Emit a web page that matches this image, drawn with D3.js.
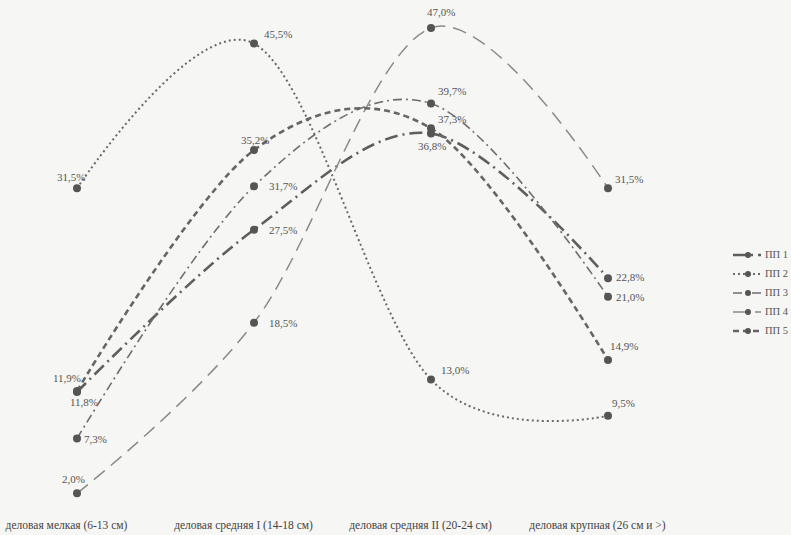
<!DOCTYPE html>
<html>
<head>
<meta charset="utf-8">
<script src="https://cdn.jsdelivr.net/npm/d3@7"></script>
<style>
  body { margin: 0; background: #f6f6f4; }
  svg { display: block; }
</style>
</head>
<body>
<div id="chart"></div>
<script>
// categories and series values (percent)
var categories = [
  "деловая мелкая (6-13 см)",
  "деловая средняя I (14-18 см)",
  "деловая средняя II (20-24 см)",
  "деловая крупная (26 см и >)"
];
var seriesNames = ["ПП 1", "ПП 2", "ПП 3", "ПП 4", "ПП 5"];
var pp1 = [11.8, 27.5, 36.8, 22.8];
var pp2 = [31.5, 45.5, 13.0, 9.5];
var pp3 = [7.3, 31.7, 39.7, 21.0];
var pp4 = [2.0, 18.5, 47.0, 31.5];
var pp5 = [11.9, 35.2, 37.3, 14.9];
var seriesValues = [pp1, pp2, pp3, pp4, pp5];

// label placement per point: [dx, dy]
var labelOffsets = [
  [[-7, 14], [15, 4], [-13, 17], [8, 3]],
  [[-20, -7], [10, -6], [10, -6], [4, -9]],
  [[7, 4], [15, 4], [7, -9], [8, 4]],
  [[-15, -10], [15, 4], [-4, -12], [7, -5]],
  [[-24, -9], [-13, -6], [7, -5], [2, -10]]
];

// line styles per series
var styles = [
  { dash: "13,5,2,5", width: 2.6, color: "#5e5e5e" },
  { dash: "2,3", width: 2, color: "#6a6a6a" },
  { dash: "9,4,2,4", width: 1.6, color: "#6e6e6e" },
  { dash: "14,8", width: 1.5, color: "#8a8a8a" },
  { dash: "6,4", width: 2.6, color: "#666666" }
];

var width = 791, height = 535;

var svg = d3.select("#chart").append("svg")
  .attr("width", width)
  .attr("height", height);

var x = d3.scalePoint()
  .domain(categories)
  .range([77, 608]);

var y = d3.scaleLinear()
  .domain([0, 50])
  .range([514, -3]);

var line = d3.line()
  .x((d, i) => x(categories[i]))
  .y(d => y(d))
  .curve(d3.curveCardinal.tension(0));

var series = svg.selectAll(".series")
  .data(seriesValues)
  .enter().append("g")
  .attr("class", "series");

series.append("path")
  .attr("d", d => line(d))
  .attr("fill", "none")
  .attr("stroke", (d, i) => styles[i].color)
  .attr("stroke-width", (d, i) => styles[i].width)
  .attr("stroke-dasharray", (d, i) => styles[i].dash);

series.each(function (vals, si) {
  var g = d3.select(this);
  g.selectAll("circle")
    .data(vals)
    .enter().append("circle")
    .attr("cx", (d, i) => x(categories[i]))
    .attr("cy", d => y(d))
    .attr("r", 4)
    .attr("fill", "#555");

  g.selectAll("text")
    .data(vals)
    .enter().append("text")
    .attr("x", (d, i) => x(categories[i]) + labelOffsets[si][i][0])
    .attr("y", (d, i) => y(d) + labelOffsets[si][i][1])
    .style("font-family", "'Liberation Serif', serif")
    .style("font-size", "11px")
    .style("fill", "#555")
    .text(d => d.toFixed(1).replace(".", ",") + "%");
});

// category labels along the bottom
var xAxis = d3.axisBottom(x).tickSize(0).tickPadding(0);
var axisG = svg.append("g")
  .attr("transform", "translate(-11,521)")
  .call(xAxis);
axisG.select(".domain").remove();
axisG.selectAll("text")
  .style("font-family", "'Liberation Serif', serif")
  .style("font-size", "11.5px")
  .style("fill", "#444");

// legend
var legend = svg.selectAll(".legend")
  .data(seriesNames)
  .enter().append("g")
  .attr("class", "legend")
  .attr("transform", (d, i) => `translate(733,${255 + i * 19})`);

legend.append("line")
  .attr("x1", 0)
  .attr("x2", 28)
  .attr("y1", 0)
  .attr("y2", 0)
  .attr("stroke", (d, i) => styles[i].color)
  .attr("stroke-width", (d, i) => styles[i].width)
  .attr("stroke-dasharray", (d, i) => styles[i].dash);

legend.append("circle")
  .attr("cx", 15)
  .attr("cy", 0)
  .attr("r", 3)
  .attr("fill", "#555");

legend.append("text")
  .attr("x", 32)
  .attr("y", 3)
  .style("font-family", "'Liberation Serif', serif")
  .style("font-size", "10.5px")
  .style("fill", "#555")
  .text(d => d);
</script>
</body>
</html>
